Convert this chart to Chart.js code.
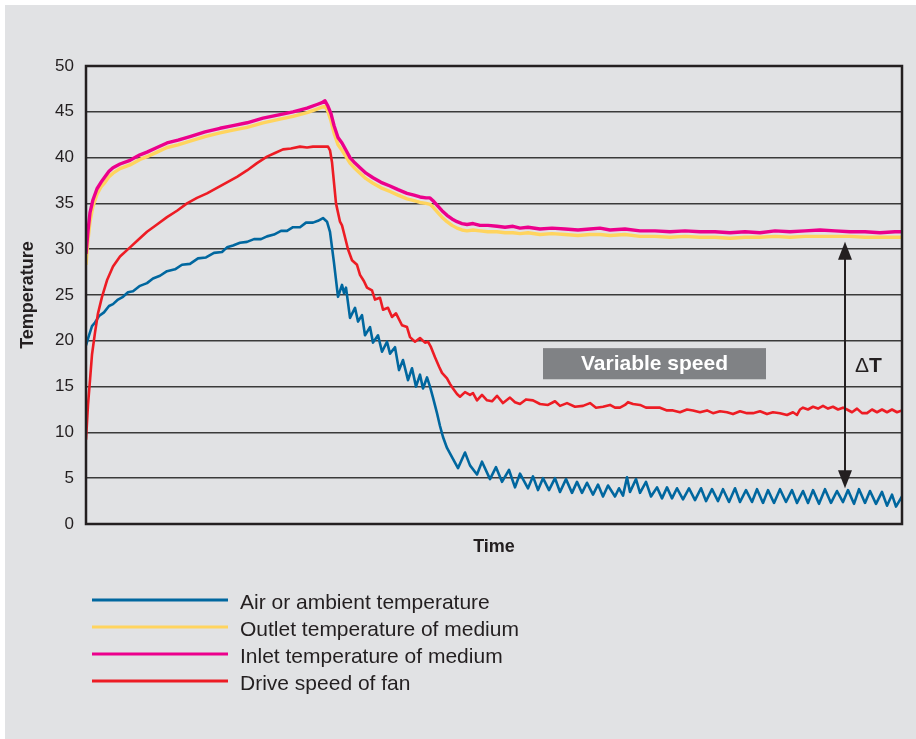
<!DOCTYPE html>
<html>
<head>
<meta charset="utf-8">
<title>Temperature over time</title>
<script src="https://cdn.jsdelivr.net/npm/chart.js@4.4.0/dist/chart.umd.min.js"></script>
<style>
  html, body { margin: 0; padding: 0; background: #fff; overflow: hidden; }
  #panel { position: absolute; left: 5px; top: 5px; width: 911px; height: 734px; background: #e1e2e4; }
  canvas { display: block; }
</style>
</head>
<body>
<div id="panel"><canvas id="chart" width="911" height="734"></canvas></div>
<script>
// Time axis has no ticks; time values are just sample positions along it
const timeAir = [
  0, 3, 6, 9, 13, 18, 23, 27, 32, 37,
  42, 47, 54, 61, 67, 74, 81, 89, 96, 104,
  112, 120, 128, 136, 141, 147, 154, 161, 168, 175,
  181, 188, 195, 201, 207, 214, 220, 227, 232, 237,
  241, 244, 248, 252, 256, 258, 260, 264, 269, 272,
  276, 279, 284, 287, 292, 296, 301, 304, 309, 313,
  317, 322, 326, 330, 334, 337, 341, 344, 347, 351,
  354, 357, 361, 366, 372, 379, 384, 391, 396, 404,
  410, 416, 423, 429, 434, 442, 447, 452, 457, 463,
  469, 474, 480, 486, 491, 496, 501, 507, 512, 517,
  522, 529, 533, 537, 541, 544, 550, 554, 560, 565,
  571, 576, 581, 586, 591, 597, 603, 609, 615, 620,
  626, 632, 637, 643, 649, 654, 660, 666, 671, 677,
  682, 688, 694, 700, 706, 711, 717, 722, 727, 733,
  739, 745, 751, 757, 762, 768, 773, 779, 784, 790,
  796, 801, 806, 810, 816
];
const air = [
  19.5, 20.6, 21.6, 22.0, 22.7, 23.1, 23.8, 24.0, 24.5, 24.8,
  25.3, 25.4, 26.0, 26.3, 26.8, 27.1, 27.6, 27.8, 28.3, 28.4,
  29.0, 29.1, 29.6, 29.7, 30.2, 30.4, 30.7, 30.8, 31.1, 31.1,
  31.4, 31.6, 32.0, 32.0, 32.4, 32.4, 32.9, 32.9, 33.1, 33.4,
  33.0, 31.9, 28.5, 24.8, 26.1, 25.2, 25.8, 22.5, 23.6, 22.1,
  22.8, 20.6, 21.5, 19.8, 20.6, 18.8, 19.9, 18.6, 19.3, 16.8,
  17.9, 15.7, 17.0, 15.0, 16.3, 14.8, 16.0, 15.0, 13.8, 12.1,
  10.7, 9.5, 8.3, 7.3, 6.1, 7.8, 6.4, 5.4, 6.8, 4.9,
  6.2, 4.6, 5.9, 4.0, 5.5, 3.9, 5.2, 3.7, 5.0, 3.7,
  5.0, 3.5, 4.9, 3.4, 4.6, 3.4, 4.5, 3.2, 4.3, 3.0,
  4.2, 3.0, 3.9, 3.1, 5.1, 3.5, 4.9, 3.4, 4.6, 3.0,
  4.0, 2.8, 4.0, 2.8, 3.9, 2.7, 3.9, 2.6, 3.9, 2.5,
  3.8, 2.5, 3.8, 2.4, 3.9, 2.4, 3.7, 2.4, 3.8, 2.3,
  3.7, 2.3, 3.8, 2.4, 3.7, 2.3, 3.6, 2.3, 3.7, 2.2,
  3.8, 2.3, 3.6, 2.4, 3.7, 2.2, 3.8, 2.3, 3.6, 2.2,
  3.5, 2.0, 3.2, 1.9, 3.0
];

const timeMedium = [
  0, 2, 4, 7, 11, 15, 19, 23, 27, 34,
  44, 54, 61, 71, 81, 92, 104, 119, 134, 147,
  161, 177, 194, 207, 221, 231, 236, 239, 242, 245,
  248, 252, 256, 260, 264, 269, 274, 280, 287, 295,
  304, 312, 321, 328, 334, 340, 344, 347, 351, 356,
  361, 366, 371, 376, 381, 387, 394, 402, 411, 419,
  427, 434, 442, 454, 466, 479, 492, 504, 514, 524,
  539, 554, 569, 584, 599, 614, 629, 644, 659, 674,
  689, 704, 719, 734, 749, 764, 779, 794, 809, 816
];
const outlet = [
  28.3, 31.0, 33.0, 34.7, 36.0, 36.8, 37.3, 37.9, 38.3, 38.8,
  39.2, 39.8, 40.1, 40.6, 41.1, 41.4, 41.8, 42.3, 42.7, 43.0,
  43.3, 43.8, 44.2, 44.5, 44.9, 45.3, 45.5, 45.6, 45.0, 44.0,
  42.7, 41.4, 40.8, 40.1, 39.4, 38.8, 38.3, 37.7, 37.2, 36.7,
  36.3, 35.9, 35.5, 35.3, 35.1, 35.0, 34.9, 34.6, 34.1, 33.5,
  33.0, 32.6, 32.3, 32.1, 32.0, 32.1, 32.0, 31.9, 31.9, 31.8,
  31.8, 31.7, 31.8, 31.6, 31.7, 31.6, 31.5, 31.6, 31.6, 31.5,
  31.6, 31.4, 31.4, 31.3, 31.4, 31.3, 31.3, 31.2, 31.3, 31.3,
  31.4, 31.3, 31.4, 31.4, 31.4, 31.4, 31.3, 31.3, 31.3, 31.3
];
const inlet = [
  29.5, 32.0, 34.0, 35.4, 36.6, 37.3, 37.9, 38.5, 38.9, 39.3,
  39.7, 40.3, 40.6, 41.1, 41.6, 41.9, 42.3, 42.8, 43.2, 43.5,
  43.8, 44.3, 44.7, 45.0, 45.4, 45.8, 46.0, 46.2, 45.6, 44.8,
  43.5, 42.2, 41.6, 40.8, 40.0, 39.4, 38.9, 38.3, 37.8, 37.3,
  36.9, 36.5, 36.1, 35.9, 35.7, 35.6, 35.6, 35.3, 34.8, 34.2,
  33.7, 33.3, 33.0, 32.8, 32.7, 32.8, 32.6, 32.6, 32.5, 32.4,
  32.5, 32.3, 32.4, 32.2, 32.3, 32.2, 32.1, 32.2, 32.3, 32.1,
  32.2, 32.0, 32.0, 31.9, 32.0, 31.9, 31.9, 31.8, 31.9, 31.8,
  32.0, 31.9, 32.0, 32.1, 32.0, 31.9, 31.9, 31.8, 31.9, 31.9
];

const timeFan = [
  0, 2, 4, 6, 9, 12, 16, 21, 27, 34,
  44, 52, 61, 71, 81, 91, 101, 111, 121, 131,
  141, 151, 161, 171, 181, 189, 197, 205, 214, 221,
  227, 234, 242, 244, 246, 250, 254, 256, 259, 262,
  266, 271, 274, 278, 281, 286, 289, 294, 297, 302,
  306, 310, 316, 321, 324, 329, 334, 339, 342, 345,
  349, 353, 356, 361, 364, 367, 371, 374, 379, 384,
  387, 391, 396, 401, 406, 411, 417, 424, 429, 434,
  440, 447, 454, 462, 469, 474, 481, 489, 497, 504,
  510, 517, 524, 529, 534, 539, 542, 547, 554, 560,
  567, 574, 581, 587, 594, 601, 607, 614, 621, 627,
  634, 641, 647, 654, 661, 667, 674, 681, 687, 694,
  701, 707, 711, 714, 717, 722, 727, 732, 737, 742,
  747, 752, 757, 761, 766, 771, 776, 781, 786, 791,
  796, 801, 806, 811, 816
];
const fan = [
  9.2, 13.0, 15.7, 18.5, 20.9, 23.0, 24.8, 26.6, 28.1, 29.2,
  30.2, 31.0, 31.9, 32.7, 33.5, 34.2, 35.0, 35.6, 36.1, 36.7,
  37.3, 37.9, 38.6, 39.4, 40.1, 40.5, 40.9, 41.0, 41.2, 41.1,
  41.2, 41.2, 41.2, 40.8, 39.5, 35.0, 33.0, 32.6, 31.3, 30.0,
  28.8, 28.3, 27.2, 26.5, 25.8, 25.5, 24.5, 24.7, 23.4, 23.6,
  22.6, 23.0, 21.7, 21.5, 20.4, 19.9, 20.3, 19.8, 19.9, 19.3,
  18.2, 17.2, 16.5, 15.9, 15.3, 14.8, 14.2, 13.9, 14.4, 14.1,
  14.3, 13.5, 14.1, 13.5, 13.4, 14.0, 13.2, 13.8, 13.3, 13.1,
  13.6, 13.5, 13.1, 13.0, 13.4, 12.9, 13.2, 12.8, 12.9, 13.2,
  12.7, 12.8, 13.0, 12.7, 12.7, 13.0, 13.3, 13.1, 13.0, 12.7,
  12.7, 12.7, 12.4, 12.4, 12.2, 12.5, 12.4, 12.2, 12.4, 12.1,
  12.3, 12.2, 12.0, 12.3, 12.1, 12.1, 12.3, 12.0, 12.2, 12.1,
  11.9, 12.2, 11.9, 12.5, 12.7, 12.5, 12.8, 12.6, 12.9, 12.6,
  12.8, 12.5, 12.7, 12.5, 12.2, 12.6, 12.1, 12.1, 12.5, 12.2,
  12.5, 12.2, 12.5, 12.2, 12.4
];

const seriesLabels = [
  'Air or ambient temperature',
  'Outlet temperature of medium',
  'Inlet temperature of medium',
  'Drive speed of fan'
];
const yTicks = [0, 5, 10, 15, 20, 25, 30, 35, 40, 45, 50];

const ink = '#231f20';
const colors = ['#00679f', '#ffd45e', '#ec008c', '#ed1c24'];

function points(times, values) {
    return times.map((t, i) => ({ x: t, y: values[i] }));
}

Chart.defaults.font.family = '"Liberation Sans", Arial, sans-serif';
Chart.defaults.color = ink;

// annotations, frame and the legend are painted by hand
const extras = {
    id: 'extras',
    afterDatasetsDraw(chart) {
        const { ctx, chartArea: a, scales: { x, y } } = chart;
        ctx.save();

        // plot frame
        ctx.strokeStyle = ink;
        ctx.lineWidth = 2.5;
        ctx.strokeRect(a.left, a.top, a.right - a.left, a.bottom - a.top);

        // "Variable speed" box
        const bx1 = x.getPixelForValue(457), bx2 = x.getPixelForValue(680);
        const by1 = y.getPixelForValue(19.2), by2 = y.getPixelForValue(15.8);
        ctx.fillStyle = '#808285';
        ctx.fillRect(bx1, by1, bx2 - bx1, by2 - by1);
        ctx.fillStyle = '#ffffff';
        ctx.font = 'bold 21px "Liberation Sans", Arial, sans-serif';
        ctx.textAlign = 'center';
        ctx.textBaseline = 'middle';
        ctx.fillText('Variable speed', (bx1 + bx2) / 2, (by1 + by2) / 2 + 1);

        // delta T double arrow
        const ax = Math.round(x.getPixelForValue(759));
        const top = y.getPixelForValue(30.8), bot = y.getPixelForValue(3.9);
        const head = 18, half = 7;
        ctx.strokeStyle = ink;
        ctx.fillStyle = ink;
        ctx.lineWidth = 2;
        ctx.beginPath();
        ctx.moveTo(ax, top + head - 2);
        ctx.lineTo(ax, bot - head + 2);
        ctx.stroke();
        ctx.beginPath();
        ctx.moveTo(ax, top);
        ctx.lineTo(ax - half, top + head);
        ctx.lineTo(ax + half, top + head);
        ctx.closePath();
        ctx.fill();
        ctx.beginPath();
        ctx.moveTo(ax, bot);
        ctx.lineTo(ax - half, bot - head);
        ctx.lineTo(ax + half, bot - head);
        ctx.closePath();
        ctx.fill();

        // delta T label
        const lx = x.getPixelForValue(769), ly = y.getPixelForValue(17.25);
        ctx.textAlign = 'left';
        ctx.textBaseline = 'middle';
        ctx.font = '21px "Liberation Sans", Arial, sans-serif';
        ctx.fillText('\u0394', lx, ly);
        const dw = ctx.measureText('\u0394').width;
        ctx.font = 'bold 21px "Liberation Sans", Arial, sans-serif';
        ctx.fillText('T', lx + dw, ly);

        // legend
        ctx.font = '21px "Liberation Sans", Arial, sans-serif';
        ctx.textBaseline = 'alphabetic';
        chart.data.datasets.forEach((ds, i) => {
            const ly2 = 595 + i * 27;
            ctx.strokeStyle = ds.borderColor;
            ctx.lineWidth = 3;
            ctx.beginPath();
            ctx.moveTo(87, ly2);
            ctx.lineTo(223, ly2);
            ctx.stroke();
            ctx.fillStyle = ink;
            ctx.fillText(ds.label, 235, ly2 + 9);
        });

        ctx.restore();
    }
};

new Chart(document.getElementById('chart'), {
    type: 'line',
    data: {
        datasets: [
            { label: seriesLabels[0], data: points(timeAir, air), borderColor: colors[0], borderWidth: 2.6, order: 3 },
            { label: seriesLabels[1], data: points(timeMedium, outlet), borderColor: colors[1], borderWidth: 3.4, order: 2 },
            { label: seriesLabels[2], data: points(timeMedium, inlet), borderColor: colors[2], borderWidth: 3.4, order: 1 },
            { label: seriesLabels[3], data: points(timeFan, fan), borderColor: colors[3], borderWidth: 2.6, order: 0 }
        ]
    },
    options: {
        responsive: false,
        animation: false,
        devicePixelRatio: 1,
        layout: { padding: { left: 0, top: 61, right: 14, bottom: 175 } },
        elements: {
            point: { radius: 0 },
            line: { tension: 0, fill: false, borderJoinStyle: 'round' }
        },
        plugins: {
            legend: { display: false },
            tooltip: { enabled: false }
        },
        scales: {
            x: {
                type: 'linear',
                min: 0,
                max: 816,
                ticks: { display: false },
                grid: { display: false, drawTicks: false },
                border: { display: false },
                title: {
                    display: true,
                    text: 'Time',
                    color: ink,
                    font: { size: 18, weight: 'bold' },
                    padding: { top: 0, bottom: 6 }
                },
                afterFit: s => { s.height = 40; }
            },
            y: {
                min: 0,
                max: 50,
                afterBuildTicks: s => { s.ticks = yTicks.map(v => ({ value: v })); },
                ticks: { color: ink, font: { size: 17 }, padding: 12 },
                grid: { color: '#3a3a3a', lineWidth: 1.5, drawTicks: false },
                border: { display: false },
                title: {
                    display: true,
                    text: 'Temperature',
                    color: ink,
                    font: { size: 18, weight: 'bold' },
                    padding: { top: 12, bottom: 0 }
                },
                afterFit: s => { s.width = 81; }
            }
        }
    },
    plugins: [extras]
});
</script>
</body>
</html>
